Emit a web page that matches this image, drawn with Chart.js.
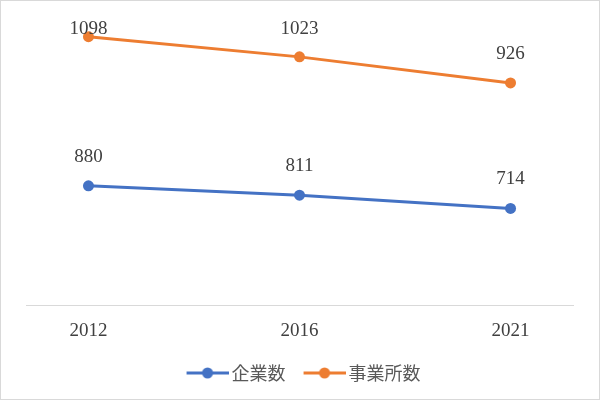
<!DOCTYPE html>
<html>
<head>
<meta charset="utf-8">
<script src="https://cdn.jsdelivr.net/npm/chart.js@4"></script>
<style>
html,body{margin:0;padding:0;background:#fff;}
canvas{display:block;}
</style>
</head>
<body>
<canvas id="c" width="600" height="400"></canvas>
<script>
const categories = ['2012', '2016', '2021'];
const kigyouValues = [880, 811, 714];
const jigyoushoValues = [1098, 1023, 926];
const seriesNames = ['企業数', '事業所数'];
const seriesColors = ['#4472C4', '#ED7D31'];

function legendImage(color) {
  const c = document.createElement('canvas');
  c.width = 56; c.height = 14;
  const g = c.getContext('2d');
  g.strokeStyle = color; g.lineWidth = 3;
  g.beginPath(); g.moveTo(14, 7); g.lineTo(56, 7); g.stroke();
  g.fillStyle = color;
  g.beginPath(); g.arc(35, 7, 5.5, 0, Math.PI * 2); g.fill();
  return c;
}
const legendImages = seriesColors.map(legendImage);

const valueLabels = {
  id: 'valueLabels',
  afterDatasetsDraw(chart) {
    const ctx = chart.ctx;
    ctx.save();
    ctx.font = '19px "Liberation Serif"';
    ctx.fillStyle = '#404040';
    ctx.textAlign = 'center';
    ctx.textBaseline = 'middle';
    chart.data.datasets.forEach((ds, di) => {
      const meta = chart.getDatasetMeta(di);
      meta.data.forEach((pt, i) => {
        const y = Math.max(pt.y - 29, 29);
        ctx.fillText(String(ds.data[i].y), pt.x, y);
      });
    });
    ctx.restore();
  }
};

const frame = {
  id: 'frame',
  beforeDraw(chart) {
    const ctx = chart.ctx;
    ctx.save();
    ctx.fillStyle = '#fff';
    ctx.fillRect(0, 0, chart.width, chart.height);
    ctx.restore();
  },
  afterDraw(chart) {
    const ctx = chart.ctx;
    ctx.save();
    ctx.strokeStyle = '#d9d9d9';
    ctx.lineWidth = 1;
    ctx.strokeRect(0.5, 0.5, chart.width - 1, chart.height - 1);
    ctx.restore();
  }
};

const toPoints = arr => arr.map((v, i) => ({x: i, y: v}));

new Chart(document.getElementById('c'), {
  type: 'line',
  data: {
    datasets: [
      {
        label: seriesNames[0],
        data: toPoints(kigyouValues),
        borderColor: seriesColors[0],
        backgroundColor: seriesColors[0],
        borderWidth: 3,
        pointRadius: 5.5,
        pointBorderWidth: 0,
        pointHoverRadius: 5.5,
        yAxisID: 'y',
        clip: false
      },
      {
        label: seriesNames[1],
        data: toPoints(jigyoushoValues),
        borderColor: seriesColors[1],
        backgroundColor: seriesColors[1],
        borderWidth: 3,
        pointRadius: 5.5,
        pointBorderWidth: 0,
        pointHoverRadius: 5.5,
        yAxisID: 'y2',
        clip: false
      }
    ]
  },
  options: {
    responsive: false,
    animation: false,
    devicePixelRatio: 1,
    layout: { padding: { left: 26, right: 27, top: 34, bottom: 8 } },
    scales: {
      x: {
        type: 'linear',
        min: -0.296,
        max: 2.296,
        afterBuildTicks(scale) { scale.ticks = categories.map((_, i) => ({value: i})); },
        afterFit(scale) { scale.height += 5; },
        grid: { display: false },
        border: { display: true, color: '#d9d9d9', width: 1 },
        ticks: {
          callback: (v) => categories[v],
          font: { family: '"Liberation Serif"', size: 19 },
          color: '#404040',
          padding: 6.5,
          maxRotation: 0,
          autoSkip: false
        }
      },
      y: { display: false, min: 0, max: 2000 },
      y2: { display: false, min: 100, max: 1108 }
    },
    plugins: {
      tooltip: { enabled: false },
      legend: {
        position: 'bottom',
        labels: {
          usePointStyle: true,
          pointStyleWidth: 44,
          padding: 10,
          color: '#595959',
          font: { family: '"Noto Sans CJK JP"', size: 18 },
          generateLabels(chart) {
            const items = Chart.defaults.plugins.legend.labels.generateLabels(chart);
            items.forEach((it, i) => { it.pointStyle = legendImages[i]; });
            return items;
          }
        }
      }
    }
  },
  plugins: [valueLabels, frame]
});
</script>
</body>
</html>
